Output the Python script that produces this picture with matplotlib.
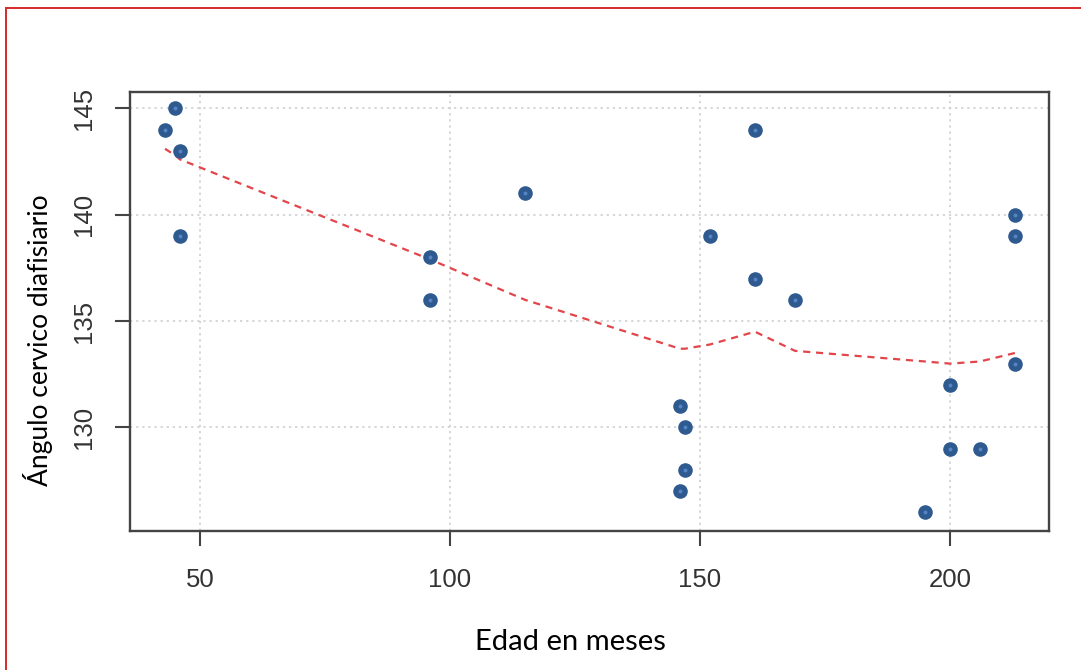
import matplotlib.pyplot as plt
from matplotlib.patches import Rectangle

# ====data====
edad = [43, 45, 46, 46, 96, 96, 115, 146, 147, 147, 146, 152, 161, 161, 169,
        200, 200, 206, 195, 213, 213, 213]
angulo = [144, 145, 143, 139, 138, 136, 141, 131, 130, 128, 127, 139, 144, 137, 136,
          132, 129, 129, 126, 140, 139, 133]

# smoothed curve (lowess), read at the sorted distinct ages
suav_x = [43, 45, 46, 96, 115, 146, 147, 152, 161, 169, 195, 200, 206, 213]
suav_y = [143.1, 142.8, 142.6, 137.9, 136.0, 133.7, 133.7, 133.9, 134.5, 133.6,
          133.1, 133.0, 133.1, 133.5]

x_ticks = [50, 100, 150, 200]
y_ticks = [130, 135, 140, 145]

W, H = 1081, 670
fig = plt.figure(figsize=(W / 100, H / 100), dpi=100)

# axes box placed in pixels
left, right, top, bottom = 130, 1049, 92, 531
ax = fig.add_axes([left / W, 1 - bottom / H, (right - left) / W, (bottom - top) / H])

# grid first so points sit on top
ax.grid(True, color='#cccccc', linestyle=(0, (1.5, 2.5)), linewidth=1.1)
ax.set_axisbelow(True)

ax.plot(suav_x, suav_y, color='#e2454a', linestyle=(0, (3.2, 2.6)), linewidth=1.6, zorder=2)
ax.plot(edad, angulo, 'o', color='#2f5a90', markersize=10.5, markeredgewidth=0, zorder=3)
ax.plot(edad, angulo, 'o', color='#5585c4', markersize=2.8, markeredgewidth=0, zorder=4)

ax.set_xlim(36, 219.8)
ax.set_ylim(125.13, 145.77)
ax.set_xticks(x_ticks)
ax.set_yticks(y_ticks)

ax.set_xticklabels([str(t) for t in x_ticks], fontsize=18.5, family='Liberation Sans', color='#333333')
ax.set_yticklabels([str(t) for t in y_ticks], fontsize=18.5, family='Liberation Sans', color='#333333',
                   rotation=90, va='center')
ax.tick_params(axis='x', length=10.5, width=1.5, color='#444444', pad=16)
ax.tick_params(axis='y', length=10.5, width=1.5, color='#444444', pad=14)

for s in ax.spines.values():
    s.set_color('#444444')
    s.set_linewidth(1.7)

fig.text(570 / W, 1 - 642 / H, 'Edad en meses', fontsize=21, family='Lato',
         ha='center', va='center')
fig.text(38 / W, 1 - 340 / H, 'Ángulo cervico diafisiario', fontsize=19, family='Lato',
         ha='center', va='center', rotation=90)

# red frame around the picture
fig.patches.append(Rectangle((6 / W, -0.01), 1.0, (H - 8) / H + 0.01,
                             transform=fig.transFigure, fill=False,
                             edgecolor='#d42a2a', linewidth=1.4))

fig.savefig('out.png', dpi=100)
